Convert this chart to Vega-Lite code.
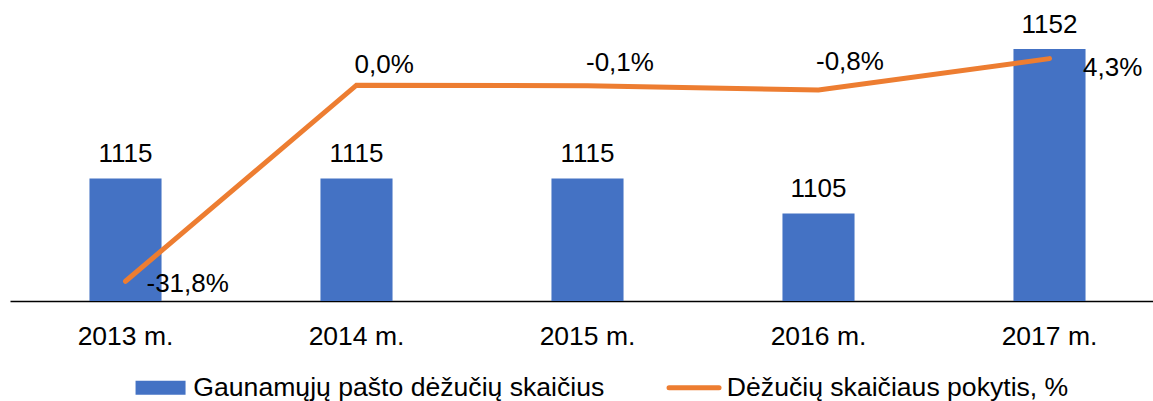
{
  "$schema": "https://vega.github.io/schema/vega-lite/v6.json",
  "width": 1155,
  "height": 280,
  "autosize": {"type": "none"},
  "padding": {"left": 10, "top": 21, "right": 0, "bottom": 100},
  "background": "white",
  "config": {
    "view": {"stroke": null},
    "font": "Liberation Sans",
    "text": {"font": "Liberation Sans", "fontSize": 26, "color": "black"}
  },
  "data": {
    "values": [
      {"year": "2013 m.", "count": 1115, "change": -31.8, "label": "-31,8%"},
      {"year": "2014 m.", "count": 1115, "change": 0.0, "label": "0,0%"},
      {"year": "2015 m.", "count": 1115, "change": -0.1, "label": "-0,1%"},
      {"year": "2016 m.", "count": 1105, "change": -0.8, "label": "-0,8%"},
      {"year": "2017 m.", "count": 1152, "change": 4.3, "label": "4,3%"}
    ]
  },
  "encoding": {
    "x": {
      "field": "year",
      "type": "nominal",
      "sort": null,
      "scale": {"paddingInner": 0.688, "paddingOuter": 0.344},
      "axis": {
        "title": null,
        "labelAngle": 0,
        "labelFont": "Liberation Sans",
        "labelFontSize": 26.5,
        "labelColor": "black",
        "ticks": false,
        "tickSize": 0,
        "labelPadding": 22,
        "domainColor": "black",
        "domainWidth": 1.3,
        "grid": false
      }
    }
  },
  "layer": [
    {
      "layer": [
        {
          "mark": {"type": "bar"},
          "encoding": {
            "y": {"field": "count", "type": "quantitative", "scale": {"domain": [1080, 1160], "zero": false, "nice": false}, "axis": null},
            "y2": {"datum": 1080},
            "color": {
              "datum": "Gaunamųjų pašto dėžučių skaičius",
              "type": "nominal",
              "scale": {
                "domain": ["Gaunamųjų pašto dėžučių skaičius", "Dėžučių skaičiaus pokytis, %"],
                "range": ["#4472C4", "#ED7D31"]
              },
              "legend": {
                "orient": "none",
                "legendX": 137.25,
                "legendY": 353.5,
                "direction": "horizontal",
                "title": null,
                "padding": 0,
                "labelFont": "Liberation Sans",
                "labelFontSize": 26.6,
                "labelColor": "black",
                "labelOffset": 19.5,
                "columnPadding": 53.5,
                "symbolSize": 2500,
                "symbolType": "stroke",
                "labelLimit": 0,
                "encode": {
                  "symbols": {
                    "update": {
                      "shape": {"signal": "datum.value === 'Gaunamųjų pašto dėžučių skaičius' ? 'M-1,-0.28H1V0.28H-1Z' : 'stroke'"},
                      "fill": {"signal": "datum.value === 'Gaunamųjų pašto dėžučių skaičius' ? '#4472C4' : 'transparent'"},
                      "stroke": {"signal": "datum.value === 'Gaunamųjų pašto dėžučių skaičius' ? 'transparent' : '#ED7D31'"},
                      "strokeWidth": {"signal": "datum.value === 'Gaunamųjų pašto dėžučių skaičius' ? 0 : 5"},
                      "strokeCap": {"value": "round"},
                      "opacity": {"value": 1}
                    }
                  }
                }
              }
            }
          }
        },
        {
          "mark": {"type": "text", "baseline": "alphabetic", "dy": -16.5},
          "encoding": {
            "y": {"field": "count", "type": "quantitative"},
            "text": {"field": "count", "type": "quantitative"}
          }
        }
      ]
    },
    {
      "layer": [
        {
          "mark": {"type": "line", "strokeWidth": 5, "strokeCap": "round"},
          "encoding": {
            "y": {"field": "change", "type": "quantitative", "scale": {"domain": [-35, 10.4], "zero": false, "nice": false}, "axis": null},
            "color": {"datum": "Dėžučių skaičiaus pokytis, %", "type": "nominal"}
          }
        },
        {
          "transform": [{"filter": "datum.year === '2013 m.'"}],
          "mark": {"type": "text", "align": "left", "baseline": "alphabetic", "dx": 21, "dy": 10.3},
          "encoding": {"y": {"field": "change", "type": "quantitative"}, "text": {"field": "label"}}
        },
        {
          "transform": [{"filter": "datum.year === '2014 m.'"}],
          "mark": {"type": "text", "align": "left", "baseline": "alphabetic", "dx": -2, "dy": -12},
          "encoding": {"y": {"field": "change", "type": "quantitative"}, "text": {"field": "label"}}
        },
        {
          "transform": [{"filter": "datum.year === '2015 m.'"}],
          "mark": {"type": "text", "align": "left", "baseline": "alphabetic", "dx": -1.5, "dy": -14.3},
          "encoding": {"y": {"field": "change", "type": "quantitative"}, "text": {"field": "label"}}
        },
        {
          "transform": [{"filter": "datum.year === '2016 m.'"}],
          "mark": {"type": "text", "align": "left", "baseline": "alphabetic", "dx": -2.5, "dy": -19.6},
          "encoding": {"y": {"field": "change", "type": "quantitative"}, "text": {"field": "label"}}
        },
        {
          "transform": [{"filter": "datum.year === '2017 m.'"}],
          "mark": {"type": "text", "align": "left", "baseline": "alphabetic", "dx": 33.5, "dy": 17},
          "encoding": {"y": {"field": "change", "type": "quantitative"}, "text": {"field": "label"}}
        }
      ]
    }
  ],
  "resolve": {"scale": {"y": "independent"}}
}
